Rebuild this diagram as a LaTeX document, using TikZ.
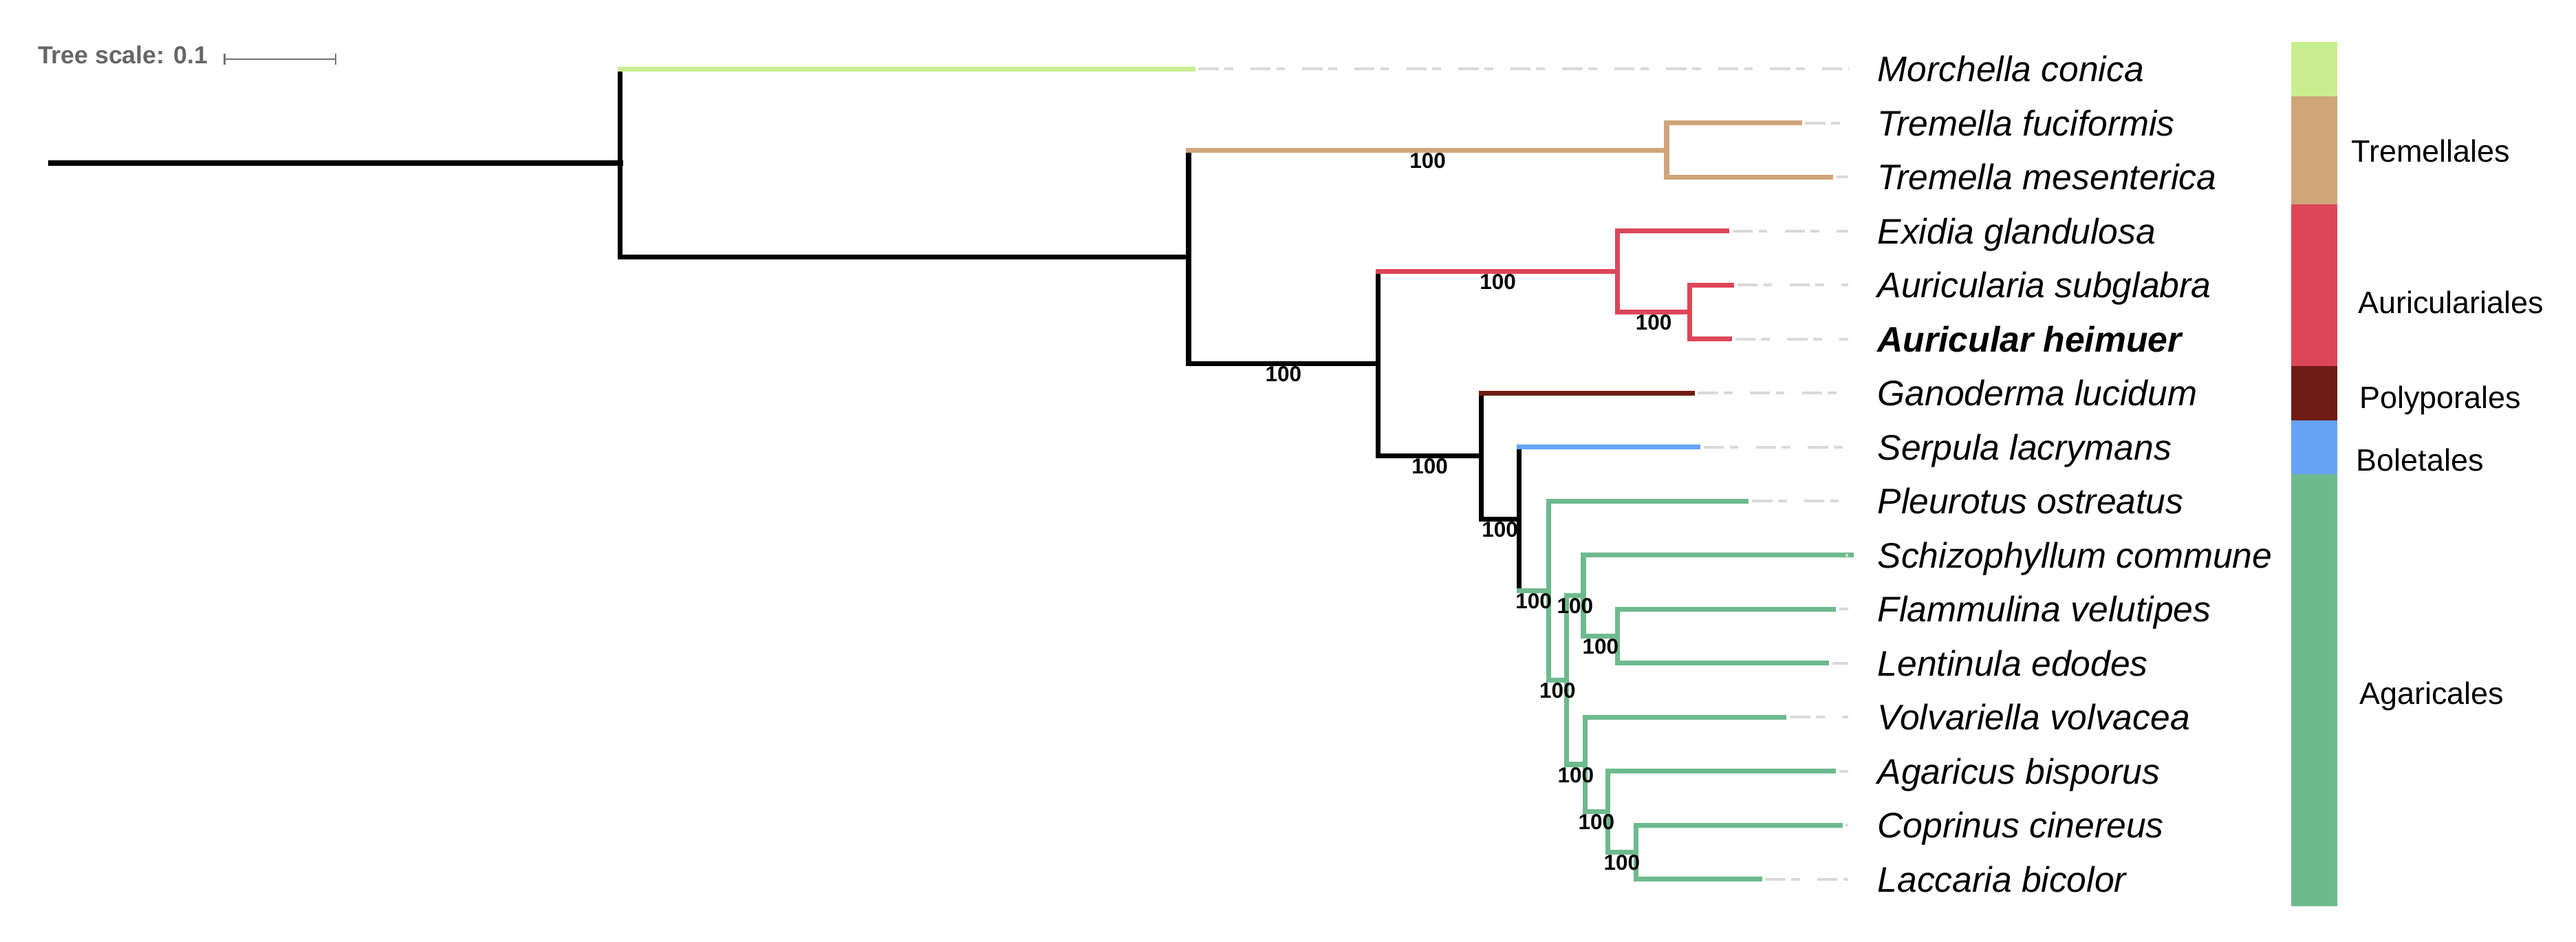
\documentclass[tikz,border=0pt]{standalone}
\usepackage{fontspec}
\setmainfont{Liberation Sans}
\usepackage{tikz}

\definecolor{morcgreen}{HTML}{C9EE8F}
\definecolor{tremtan}{HTML}{CFA57A}
\definecolor{aurired}{HTML}{DD4659}
\definecolor{polybrown}{HTML}{6E1C14}
\definecolor{boleblue}{HTML}{66A3F5}
\definecolor{agargreen}{HTML}{6DBA8D}

\begin{document}
\begin{tikzpicture}[x=0.2mm, y=-0.2mm,
    br/.style={line width=1.7pt, line cap=rect},
    leader/.style={black!15, line width=0.9pt, dash pattern=on 7pt off 2pt on 3pt off 6pt},
    boot/.style={anchor=north, inner sep=0.8pt, font=\fontsize{7.5}{8}\selectfont\bfseries},
    taxon/.style={anchor=base west, inner sep=0pt, yshift=-4.4pt, font=\fontsize{12.3}{14}\selectfont\itshape},
    clade/.style={anchor=base west, inner sep=0pt, yshift=-3.8pt, font=\fontsize{10.7}{12}\selectfont}]
  \useasboundingbox (0,0) rectangle (1568,573);

  % tree scale
  \node[anchor=west, inner sep=0pt, text=black!60, font=\fontsize{8.5}{10}\selectfont\bfseries] (tscale) at (22.7,33.5) {Tree scale: 0.1};
  \coordinate (sbl) at (136.7,36);
  \coordinate (sbr) at (204.3,36);
  \draw[black!55, line width=0.6pt] (sbl) -- (sbr) ([yshift=2pt]sbl) -- ([yshift=-2pt]sbl) ([yshift=2pt]sbr) -- ([yshift=-2pt]sbr);

  % inner nodes
  \coordinate (root) at (31,99.17);
  \coordinate (nA) at (377.5,99.17);
  \coordinate (nB) at (723.5,156.33);
  \coordinate (nTr) at (1014.5,91.3);
  \coordinate (nC) at (839,221.36);
  \coordinate (nAu) at (984.5,165.25);
  \coordinate (nE) at (1028.6,189.9);
  \coordinate (nD) at (901.5,277.46);
  \coordinate (nF) at (924.5,315.72);
  \coordinate (nG) at (942.5,359.37);
  \coordinate (nH) at (953.7,413.8);
  \coordinate (nI) at (963.8,362.45);
  \coordinate (nJ) at (984.7,387.1);
  \coordinate (nK) at (964.7,465.16);
  \coordinate (nL) at (978.7,493.92);
  \coordinate (nM) at (995.8,518.57);
  % leaf tips
  \coordinate (t0) at (726,42);
  \coordinate (t1) at (1095.3,74.87);
  \coordinate (t2) at (1114.4,107.73);
  \coordinate (t3) at (1051.2,140.6);
  \coordinate (t4) at (1054.1,173.47);
  \coordinate (t5) at (1052.7,206.33);
  \coordinate (t6) at (1030,239.2);
  \coordinate (t7) at (1033.6,272.07);
  \coordinate (t8) at (1063,304.93);
  \coordinate (t9) at (1127,337.8);
  \coordinate (t10) at (1116,370.67);
  \coordinate (t11) at (1112,403.53);
  \coordinate (t12) at (1086,436.4);
  \coordinate (t13) at (1116,469.27);
  \coordinate (t14) at (1120,502.13);
  \coordinate (t15) at (1071,535);

  % branches
  \draw[br, line width=2pt] (root) -- (nA);
  \foreach \p/\a/\b/\col in {nA/t0/nB/black, nB/nTr/nC/black, nTr/t1/t2/tremtan,
      nC/nAu/nD/black, nAu/t3/nE/aurired, nE/t4/t5/aurired, nD/t6/nF/black,
      nF/t7/nG/black, nG/t8/nH/agargreen, nH/nI/nK/agargreen, nI/t9/nJ/agargreen,
      nJ/t10/t11/agargreen, nK/t12/nL/agargreen, nL/t13/nM/agargreen, nM/t14/t15/agargreen}
    \draw[br, \col] (\p |- \a) -- (\p |- \b);
  \foreach \p/\c/\col in {nA/t0/morcgreen, nA/nB/black, nB/nTr/tremtan, nB/nC/black,
      nTr/t1/tremtan, nTr/t2/tremtan, nC/nAu/aurired, nC/nD/black, nAu/t3/aurired,
      nAu/nE/aurired, nE/t4/aurired, nE/t5/aurired, nD/t6/polybrown, nD/nF/black,
      nF/t7/boleblue, nF/nG/agargreen, nG/t8/agargreen, nG/nH/agargreen,
      nH/nI/agargreen, nH/nK/agargreen, nI/t9/agargreen, nI/nJ/agargreen,
      nJ/t10/agargreen, nJ/t11/agargreen, nK/t12/agargreen, nK/nL/agargreen,
      nL/t13/agargreen, nL/nM/agargreen, nM/t14/agargreen, nM/t15/agargreen}
    \draw[br, \col] (\p |- \c) -- (\c);

  % bootstrap values
  \foreach \p/\c in {nB/nTr, nB/nC, nC/nAu, nAu/nE, nC/nD, nD/nF, nF/nG,
      nG/nH, nH/nI, nI/nJ, nH/nK, nK/nL, nL/nM}
    \path (\p |- \c) -- node[boot] (bs\c) {100} (\c);

  % leaders and species
  \coordinate (ldr) at (1125,0);
  \coordinate (lx) at (1142.5,0);
  \foreach \i/\name in {0/Morchella conica, 1/Tremella fuciformis, 2/Tremella mesenterica,
      3/Exidia glandulosa, 4/Auricularia subglabra, 5/\textbf{Auricular heimuer},
      6/Ganoderma lucidum, 7/Serpula lacrymans, 8/Pleurotus ostreatus,
      9/Schizophyllum commune, 10/Flammulina velutipes, 11/Lentinula edodes,
      12/Volvariella volvacea, 13/Agaricus bisporus, 14/Coprinus cinereus,
      15/Laccaria bicolor} {
    \draw[leader, shorten <=2pt] (t\i) -- (t\i -| ldr);
    \node[taxon] (lab\i) at (t\i -| lx) {\name};
  }

  % order strip
  \fill[morcgreen] (1394.5,25.6) rectangle (1422.7,58.4);
  \fill[tremtan] (1394.5,58.4) rectangle (1422.7,124.2);
  \fill[aurired] (1394.5,124.2) rectangle (1422.7,222.8);
  \fill[polybrown] (1394.5,222.8) rectangle (1422.7,255.7);
  \fill[boleblue] (1394.5,255.7) rectangle (1422.7,288.5);
  \fill[agargreen] (1394.5,288.5) rectangle (1422.7,551.4);
  \node[clade] (cTrem) at (1431,92) {Tremellales};
  \node[clade] (cAuri) at (1435,184) {Auriculariales};
  \node[clade] (cPoly) at (1436,242) {Polyporales};
  \node[clade] (cBole) at (1434,280) {Boletales};
  \node[clade] (cAgar) at (1436,422) {Agaricales};
\end{tikzpicture}
\end{document}
